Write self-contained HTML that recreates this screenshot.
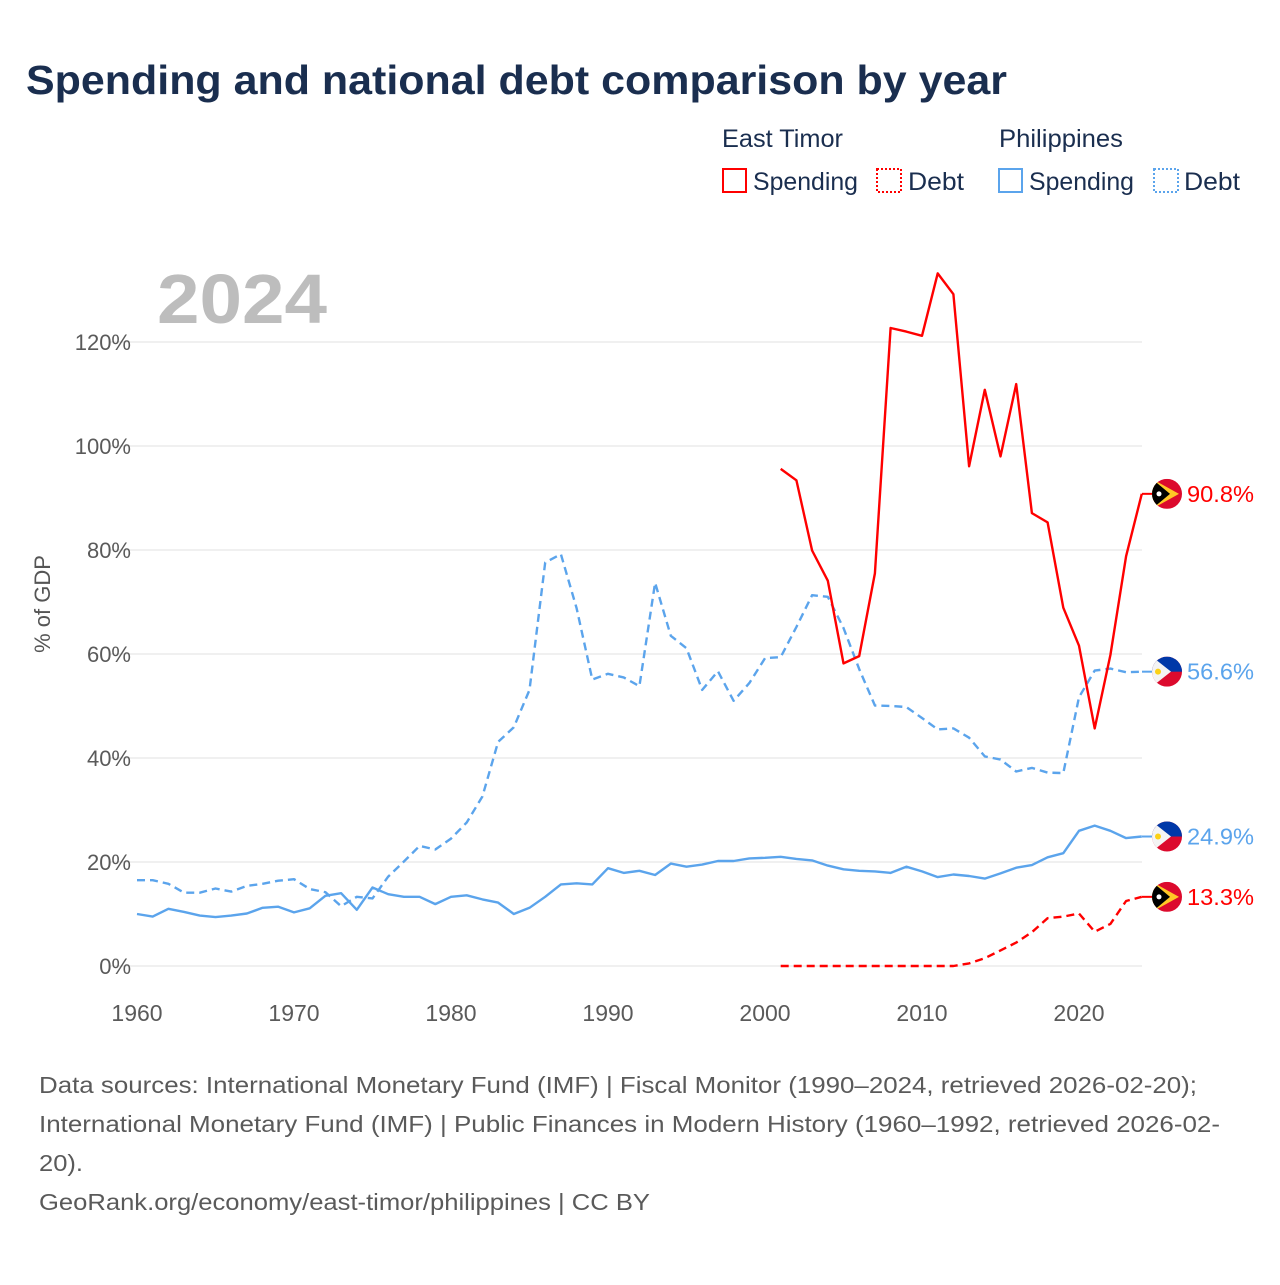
<!DOCTYPE html>
<html><head><meta charset="utf-8">
<style>
body{margin:0;background:#fff;width:1280px;height:1280px;overflow:hidden;font-family:"Liberation Sans",sans-serif;}
</style></head>
<body>
<svg id="chart" width="1280" height="1280" viewBox="0 0 1280 1280" xmlns="http://www.w3.org/2000/svg">
<text x="26" y="94" font-size="41" font-weight="bold" fill="#1a2e4f" textLength="981" lengthAdjust="spacingAndGlyphs">Spending and national debt comparison by year</text>
<g font-size="25" fill="#1a2e4f">
<text x="722" y="147" textLength="121" lengthAdjust="spacingAndGlyphs">East Timor</text>
<text x="999" y="147" textLength="124" lengthAdjust="spacingAndGlyphs">Philippines</text>
<g><rect x="723" y="169" width="23" height="23" fill="none" stroke="#f00" stroke-width="2"/><text x="753" y="190" textLength="105" lengthAdjust="spacingAndGlyphs">Spending</text></g>
<g><rect x="877" y="169" width="24" height="23" fill="none" stroke="#f00" stroke-width="2" stroke-dasharray="2 2"/><text x="908" y="190" textLength="56" lengthAdjust="spacingAndGlyphs">Debt</text></g>
<g><rect x="999" y="169" width="23" height="23" fill="none" stroke="#5ba4ec" stroke-width="2"/><text x="1029" y="190" textLength="105" lengthAdjust="spacingAndGlyphs">Spending</text></g>
<g><rect x="1154" y="169" width="24" height="23" fill="none" stroke="#5ba4ec" stroke-width="2" stroke-dasharray="2 2"/><text x="1184" y="190" textLength="56" lengthAdjust="spacingAndGlyphs">Debt</text></g>
</g>
<text x="157" y="323" font-size="70" font-weight="bold" fill="#bdbdbd" textLength="170" lengthAdjust="spacingAndGlyphs">2024</text>
<text transform="translate(50,604) rotate(-90)" text-anchor="middle" font-size="22" fill="#555">% of GDP</text>
<defs><clipPath id="fc"><circle cx="0" cy="0" r="15"/></clipPath></defs>
<g id="grid"></g><g id="series"></g><g id="labels"></g>
<g font-size="23" fill="#5a5a5a">
<text x="39" y="1093" textLength="1158" lengthAdjust="spacingAndGlyphs">Data sources: International Monetary Fund (IMF) | Fiscal Monitor (1990–2024, retrieved 2026-02-20);</text>
<text x="39" y="1132" textLength="1181" lengthAdjust="spacingAndGlyphs">International Monetary Fund (IMF) | Public Finances in Modern History (1960–1992, retrieved 2026-02-</text>
<text x="39" y="1171" textLength="44" lengthAdjust="spacingAndGlyphs">20).</text>
<text x="39" y="1210" textLength="611" lengthAdjust="spacingAndGlyphs">GeoRank.org/economy/east-timor/philippines | CC BY</text>
</g>
</svg>
<script>
const yTicks=[0,20,40,60,80,100,120];
const xTicks=[1960,1970,1980,1990,2000,2010,2020];
const phYears=[];for(let y=1960;y<=2024;y++)phYears.push(y);
const etYears=[];for(let y=2001;y<=2024;y++)etYears.push(y);
const phSpending=[10.0,9.5,11.0,10.4,9.7,9.4,9.7,10.1,11.2,11.4,10.3,11.1,13.5,14.0,10.8,15.1,13.8,13.3,13.3,11.9,13.3,13.6,12.8,12.2,10.0,11.2,13.3,15.7,15.9,15.7,18.8,17.9,18.3,17.5,19.7,19.1,19.5,20.2,20.2,20.7,20.8,21.0,20.6,20.3,19.3,18.6,18.3,18.2,17.9,19.1,18.2,17.1,17.6,17.3,16.8,17.8,18.9,19.4,20.9,21.7,26.0,27.0,26.0,24.6,24.9];
const phDebt=[16.5,16.5,15.8,14.1,14.1,14.9,14.3,15.4,15.8,16.4,16.7,14.8,14.2,11.5,13.3,13.0,17.2,20.1,23.1,22.4,24.5,27.6,32.6,43.1,45.9,53.1,77.6,79.2,68.8,55.1,56.2,55.5,53.8,73.7,63.5,61.1,53.1,56.7,51.0,54.4,59.2,59.4,65.2,71.3,71.0,65.0,57.1,50.1,50.0,49.8,47.7,45.5,45.7,43.9,40.3,39.7,37.4,38.1,37.2,37.1,51.7,56.8,57.2,56.5,56.6];
const etSpending=[95.6,93.4,79.9,74.1,58.2,59.6,75.5,122.7,122.0,121.2,133.2,129.2,96.1,110.8,98.0,111.9,87.1,85.3,68.9,61.6,45.7,59.8,78.8,90.8];
const etDebt=[0,0,0,0,0,0,0,0,0,0,0,0,0.5,1.5,3.0,4.5,6.5,9.2,9.5,10.1,6.6,8.1,12.5,13.3];
const NS='http://www.w3.org/2000/svg';
const X=yr=>137+15.7*(yr-1960);
const Y=v=>966-5.2*v;
function mk(tag,attrs,parent){const e=document.createElementNS(NS,tag);for(const k in attrs)e.setAttribute(k,attrs[k]);parent.appendChild(e);return e;}
const grid=document.getElementById('grid');
yTicks.forEach(t=>{
 const l=mk('line',{x1:110,x2:1142,y1:Y(t),y2:Y(t),stroke:'#e6e6e6','stroke-width':1.3},grid);
 
 
 const tx=mk('text',{x:131,y:Y(t)+8,'text-anchor':'end','font-size':22,fill:'#5a5a5a'},grid);
 tx.textContent=t+'%';
 
 
});
xTicks.forEach(t=>{
 const tx=mk('text',{x:X(t),y:1021,'text-anchor':'middle','font-size':23,fill:'#5a5a5a'},grid);
 tx.textContent=t;
 
 
});
const ser=document.getElementById('series');
function line(years,vals,color,dash,name){
 const d=years.map((y,i)=>(i?'L':'M')+X(y).toFixed(1)+' '+Y(vals[i]).toFixed(1)).join(' ');
 const p=mk('path',{d:d,fill:'none',stroke:color,'stroke-width':2.4,'stroke-linejoin':'round'},ser);
 if(dash)p.setAttribute('stroke-dasharray','8 5');
 
 
}
line(phYears,phDebt,'#5ba4ec',true,'line-ph-debt');
line(phYears,phSpending,'#5ba4ec',false,'line-ph-spending');
line(etYears,etDebt,'#f00',true,'line-et-debt');
line(etYears,etSpending,'#f00',false,'line-et-spending');
const lab=document.getElementById('labels');
function endLabel(v,color,flag,name){
 const y=Y(v);
 mk('line',{x1:1142,x2:1152,y1:y,y2:y,stroke:color,'stroke-width':2},lab);
 const g=mk('g',{transform:`translate(1167,${y})`},lab);
 
 
 const c=mk('g',{'clip-path':'url(#fc)'},g);
 mk('rect',{x:-15,y:-15,width:30,height:30,fill:'#dc0a2d'},c);
 if(flag==='tl'){
  mk('polygon',{points:'-15,-15 12,0 -15,15',fill:'#ffc726'},c);
  mk('polygon',{points:'-15,-15 3,0 -15,15',fill:'#000'},c);
  mk('circle',{cx:-8,cy:0,r:2.5,fill:'#fff'},c);
 }else{
  mk('rect',{x:-15,y:-15,width:30,height:15,fill:'#0038a8'},c);
  mk('polygon',{points:'-15,-15 4,0 -15,15',fill:'#f4f4f4'},c);
  mk('circle',{cx:-9,cy:0,r:3,fill:'#fcd116'},c);
 }
 const t=mk('text',{x:1187,y:y+8,'font-size':23,fill:color,textLength:67,lengthAdjust:'spacingAndGlyphs'},lab);
 t.textContent=v.toFixed(1)+'%';
 
 
}
endLabel(etSpending[etSpending.length-1],'#f00','tl','et-spending');
endLabel(phDebt[phDebt.length-1],'#5ba4ec','ph','ph-debt');
endLabel(phSpending[phSpending.length-1],'#5ba4ec','ph','ph-spending');
endLabel(etDebt[etDebt.length-1],'#f00','tl','et-debt');
</script>
</body></html>
